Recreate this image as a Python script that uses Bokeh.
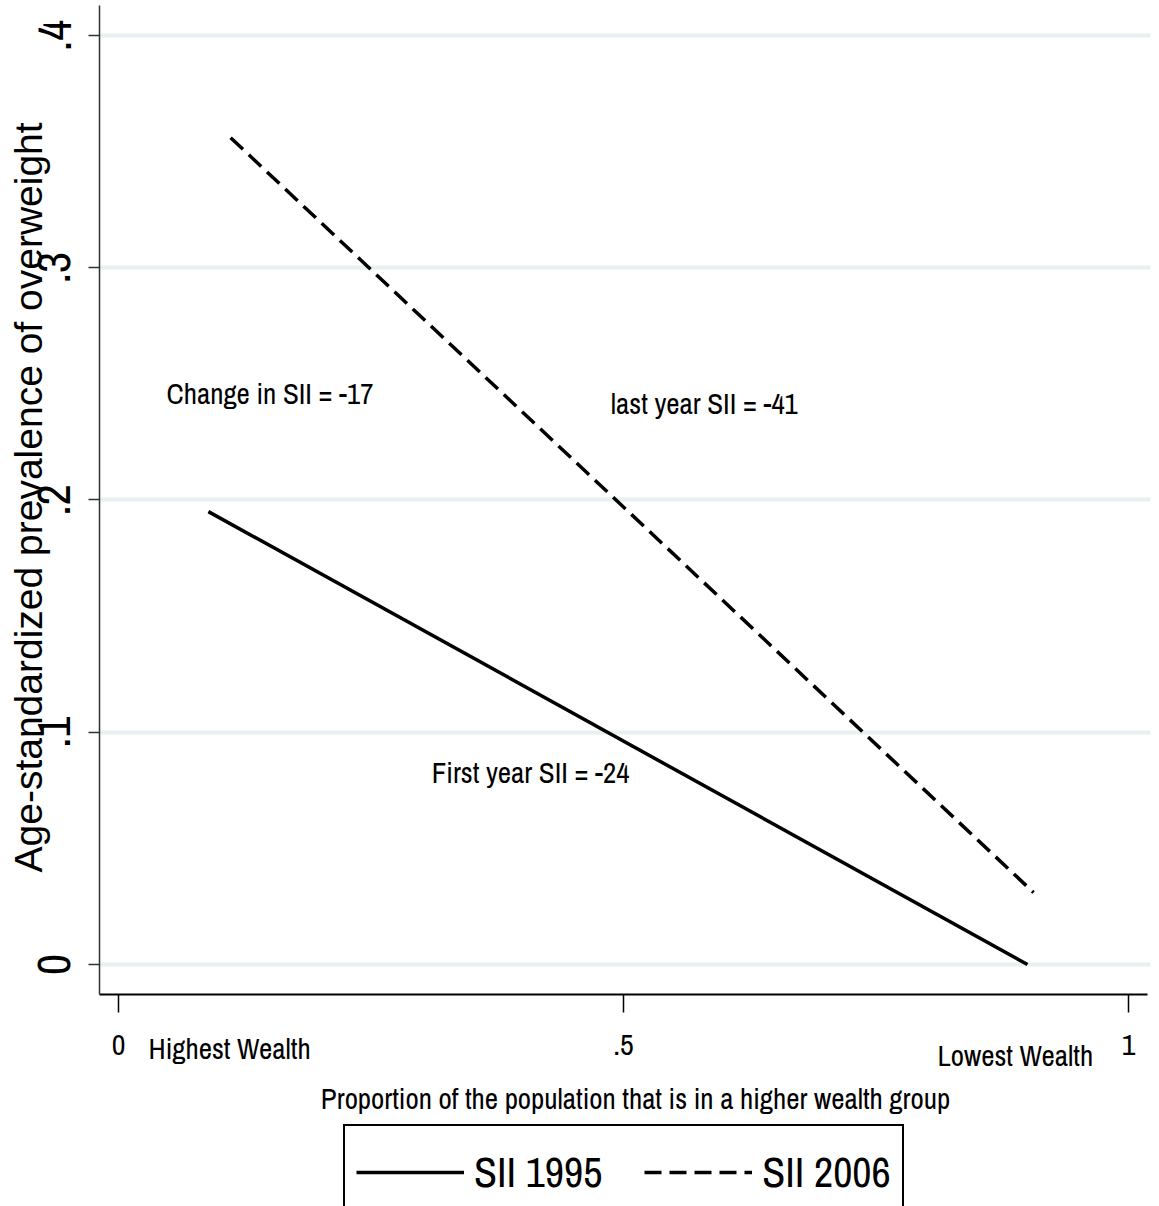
import math
from bokeh.plotting import figure
from bokeh.models import (FixedTicker, CustomJSTickFormatter, Label, Legend, LegendItem,
                          ColumnDataSource, Range1d)
from bokeh.embed import file_html
from bokeh.resources import INLINE
from bokeh.core.properties import value

# ---- data ----
series_names = ["SII 1995", "SII 2006"]
x_1995 = [0.089, 0.900]
y_1995 = [0.195, 0.000]
x_2006 = [0.111, 0.906]
y_2006 = [0.356, 0.031]

x_ticks = [0, 0.5, 1]
x_tick_labels = ["0", ".5", "1"]
y_ticks = [0, 0.1, 0.2, 0.3, 0.4]
y_tick_labels = ["0", ".1", ".2", ".3", ".4"]

ann_text = ["Change in SII = -17", "last year SII = -41", "First year SII = -24"]
ann_x = [0.150, 0.580, 0.408]
ann_y = [0.246, 0.2415, 0.0827]

end_labels = ["Highest Wealth", "Lowest Wealth"]
end_x = [0.110, 0.888]
end_y = [-0.0362, -0.0392]

x_title = "Proportion of the population that is in a higher wealth group"
y_title = "Age-standardized prevalence of overweight"

# visible plot region (data units)
X_LO, X_HI = -0.0188, 1.0190
Y_LO, Y_HI = -0.01292, 0.41292

NARROW = "Archivo Narrow"
REG = "Liberation Sans"

p = figure(width=1159, height=1206, output_backend="svg", toolbar_location=None,
           x_range=Range1d(-0.11683, 1.03069), y_range=Range1d(-0.10420, 0.41507),
           min_border_left=0, min_border_right=0, min_border_top=0, min_border_bottom=0)
p.outline_line_color = None
p.background_fill_color = "white"
p.border_fill_color = "white"

# grid
p.xgrid.visible = False
p.ygrid.ticker = FixedTicker(ticks=y_ticks)
p.ygrid.grid_line_color = "#e8f0f2"
p.ygrid.grid_line_width = 4
p.ygrid.cross_bounds = (X_LO, 1.0218)

fmt_code = "const i = vals.indexOf(tick); return i >= 0 ? labs[i] : String(tick);"

# x axis
xa = p.xaxis[0]
xa.fixed_location = Y_LO
xa.bounds = (X_LO, X_HI)
xa.ticker = FixedTicker(ticks=x_ticks)
xa.formatter = CustomJSTickFormatter(args=dict(vals=x_ticks, labs=x_tick_labels), code=fmt_code)
xa.axis_line_color = "black"
xa.axis_line_width = 2
xa.major_tick_line_color = "black"
xa.major_tick_line_width = 1.5
xa.major_tick_out = 18
xa.major_tick_in = 0
xa.minor_tick_line_color = None
xa.major_label_text_font = NARROW
xa.major_label_text_font_size = "30px"
xa.major_label_text_color = "black"
xa.major_label_standoff = 22

# y axis
ya = p.yaxis[0]
ya.fixed_location = X_LO
ya.bounds = (Y_LO, Y_HI)
ya.ticker = FixedTicker(ticks=y_ticks)
ya.formatter = CustomJSTickFormatter(args=dict(vals=y_ticks, labs=y_tick_labels), code=fmt_code)
ya.axis_line_color = "#333333"
ya.axis_line_width = 1.5
ya.major_tick_line_color = "#333333"
ya.major_tick_line_width = 1.5
ya.major_tick_out = 11
ya.major_tick_in = 0
ya.minor_tick_line_color = None
ya.major_label_orientation = "vertical"
ya.major_label_text_font = NARROW
ya.major_label_text_font_size = "46px"
ya.major_label_text_color = "black"
ya.major_label_standoff = 18

# axis titles
p.add_layout(Label(x=-0.0891, y=0.2011, text=y_title, angle=math.pi / 2,
                   text_font=REG, text_font_size="39px", text_align="center",
                   text_baseline="middle", text_color="black"))
p.add_layout(Label(x=0.5119, y=-0.0577, text=x_title,
                   text_font=NARROW, text_font_size="29px", text_align="center",
                   text_baseline="middle", text_color="black"))

# lines
r1 = p.line(x_1995, y_1995, line_color="black", line_width=3.5)
r2 = p.line(x_2006, y_2006, line_color="black", line_width=3.5, line_dash="17 8")

# annotations inside plot
src = ColumnDataSource(dict(x=ann_x, y=ann_y, t=ann_text))
p.text(x="x", y="y", text="t", source=src, text_font=value(NARROW), text_font_size="29px",
       text_align="center", text_baseline="middle", text_color="black")

for t, xx, yy in zip(end_labels, end_x, end_y):
    p.add_layout(Label(x=xx, y=yy, text=t, text_font=NARROW, text_font_size="29px",
                       text_align="center", text_baseline="middle", text_color="black"))

legend = Legend(items=[LegendItem(label=series_names[0], renderers=[r1]),
                       LegendItem(label=series_names[1], renderers=[r2])],
                orientation="horizontal", location=(343, -14),
                label_text_font=NARROW, label_text_font_size="42px", label_text_color="black",
                glyph_width=108, glyph_height=70, label_height=70, label_standoff=10,
                spacing=42, padding=11, margin=0,
                border_line_color="black", border_line_width=2, border_line_alpha=1.0,
                background_fill_color="white", background_fill_alpha=1.0)
p.add_layout(legend, "center")

open("out.html", "w").write(file_html(p, INLINE))
